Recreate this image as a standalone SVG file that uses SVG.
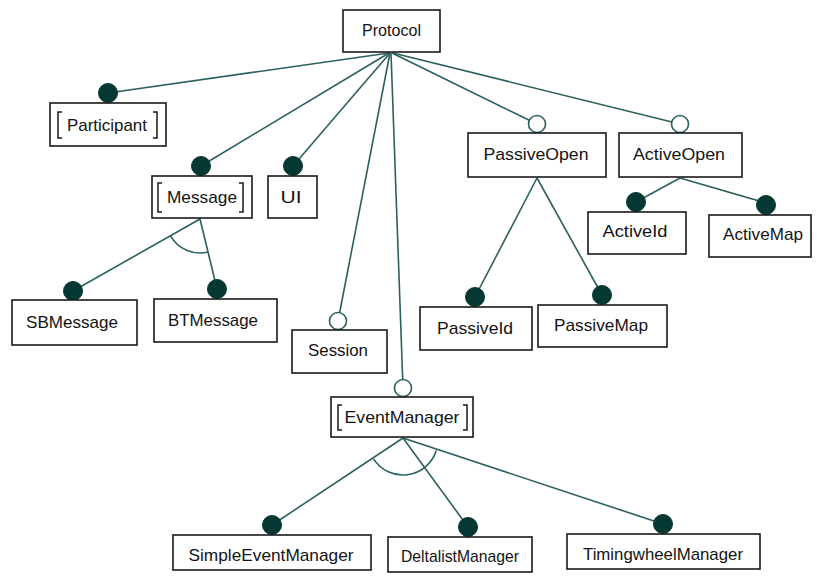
<svg xmlns="http://www.w3.org/2000/svg" width="817" height="576" viewBox="0 0 817 576">
  <style>
    .box { fill: #ffffff; stroke: #1a1a1a; stroke-width: 1.6; }
    .brk { fill: none; stroke: #1a1a1a; stroke-width: 1.5; }
    .lbl { font-family: "Liberation Sans", Arial, sans-serif; font-size: 17px; fill: #141414; text-anchor: middle; }
    .edge { fill: none; stroke: #2b6060; stroke-width: 1.6; }
    .arc { fill: none; stroke: #2b6060; stroke-width: 1.6; }
    .mand { fill: #053832; stroke: #053832; stroke-width: 1; }
    .opt { fill: #ffffff; stroke: #2b6060; stroke-width: 1.6; }
  </style>
  <rect width="817" height="576" fill="#ffffff"/>

  <!-- connectors -->
  <g id="connectors">
    <!-- Protocol children -->
    <line class="edge" x1="389" y1="53" x2="108" y2="93"/>
    <line class="edge" x1="389" y1="53" x2="201" y2="166"/>
    <line class="edge" x1="390" y1="53" x2="293" y2="166"/>
    <line class="edge" x1="390" y1="53" x2="338" y2="321"/>
    <line class="edge" x1="391" y1="53" x2="403" y2="388"/>
    <line class="edge" x1="392" y1="53" x2="537" y2="124"/>
    <line class="edge" x1="393" y1="53" x2="680" y2="124"/>
    <!-- Message alternatives -->
    <line class="edge" x1="200" y1="219" x2="73" y2="291"/>
    <line class="edge" x1="200" y1="219" x2="217" y2="289"/>
    <path class="arc" d="M170.4,235.6 A34,34 0 0 0 208.2,252"/>
    <!-- PassiveOpen children -->
    <line class="edge" x1="537" y1="178" x2="475" y2="297"/>
    <line class="edge" x1="537" y1="178" x2="602" y2="295"/>
    <!-- ActiveOpen children -->
    <line class="edge" x1="680" y1="178" x2="636" y2="202"/>
    <line class="edge" x1="680" y1="178" x2="766" y2="203"/>
    <!-- EventManager alternatives -->
    <line class="edge" x1="403" y1="438" x2="272" y2="525"/>
    <line class="edge" x1="403" y1="438" x2="468" y2="527"/>
    <line class="edge" x1="403" y1="438" x2="663" y2="524"/>
    <path class="arc" d="M373.5,458.9 A35,35 0 0 0 436.3,450.6"/>

    <!-- mandatory markers -->
    <circle class="mand" cx="108" cy="93" r="9.5"/>
    <circle class="mand" cx="201" cy="166" r="9.5"/>
    <circle class="mand" cx="293" cy="166" r="9.5"/>
    <circle class="mand" cx="73" cy="291" r="9.5"/>
    <circle class="mand" cx="217" cy="289" r="9.5"/>
    <circle class="mand" cx="475" cy="297" r="9.5"/>
    <circle class="mand" cx="602" cy="295" r="9.5"/>
    <circle class="mand" cx="636" cy="202" r="9.5"/>
    <circle class="mand" cx="766" cy="205" r="9.5"/>
    <circle class="mand" cx="272" cy="525" r="9.5"/>
    <circle class="mand" cx="468" cy="527" r="9.5"/>
    <circle class="mand" cx="663" cy="524" r="9.5"/>
    <!-- optional markers -->
    <circle class="opt" cx="338" cy="321" r="8.5"/>
    <circle class="opt" cx="403" cy="388" r="8.5"/>
    <circle class="opt" cx="537" cy="124" r="8.5"/>
    <circle class="opt" cx="680" cy="124" r="8.5"/>
  </g>

  <g id="protocol">
    <rect class="box" x="343" y="10" width="97" height="42"/>
    <text class="lbl" x="391.5" y="36" textLength="59" lengthAdjust="spacingAndGlyphs">Protocol</text>
  </g>

  <g id="participant">
    <rect class="box" x="50" y="103" width="116" height="43"/>
    <path class="brk" d="M62,112 H58 V138 H62 M153,112 H157 V138 H153"/>
    <text class="lbl" x="107" y="131" textLength="80" lengthAdjust="spacingAndGlyphs">Participant</text>
  </g>

  <g id="message">
    <rect class="box" x="152" y="176" width="100" height="42"/>
    <path class="brk" d="M162,183 H158 V212 H162 M239,183 H243 V212 H239"/>
    <text class="lbl" x="202" y="203" textLength="70" lengthAdjust="spacingAndGlyphs">Message</text>
  </g>

  <g id="ui">
    <rect class="box" x="268" y="176" width="49" height="42"/>
    <text class="lbl" x="291" y="203" textLength="21" lengthAdjust="spacingAndGlyphs">UI</text>
  </g>

  <g id="sbmessage">
    <rect class="box" x="12" y="300" width="125" height="45"/>
    <text class="lbl" x="72" y="328" textLength="92" lengthAdjust="spacingAndGlyphs">SBMessage</text>
  </g>

  <g id="btmessage">
    <rect class="box" x="154" y="299" width="123" height="43"/>
    <text class="lbl" x="213" y="326" textLength="90" lengthAdjust="spacingAndGlyphs">BTMessage</text>
  </g>

  <g id="session">
    <rect class="box" x="292" y="330" width="95" height="43"/>
    <text class="lbl" x="338" y="356" textLength="60" lengthAdjust="spacingAndGlyphs">Session</text>
  </g>

  <g id="eventmanager">
    <rect class="box" x="331" y="397" width="142" height="40"/>
    <path class="brk" d="M342,405 H338 V430 H342 M463,405 H467 V430 H463"/>
    <text class="lbl" x="402" y="423" textLength="115" lengthAdjust="spacingAndGlyphs">EventManager</text>
  </g>

  <g id="passiveopen">
    <rect class="box" x="468" y="133" width="138" height="44"/>
    <text class="lbl" x="536" y="160" textLength="105" lengthAdjust="spacingAndGlyphs">PassiveOpen</text>
  </g>

  <g id="activeopen">
    <rect class="box" x="619" y="133" width="123" height="44"/>
    <text class="lbl" x="679" y="160" textLength="92" lengthAdjust="spacingAndGlyphs">ActiveOpen</text>
  </g>

  <g id="activeid">
    <rect class="box" x="588" y="212" width="98" height="42"/>
    <text class="lbl" x="635" y="237" textLength="65" lengthAdjust="spacingAndGlyphs">ActiveId</text>
  </g>

  <g id="activemap">
    <rect class="box" x="709" y="215" width="102" height="42"/>
    <text class="lbl" x="763" y="240" textLength="80" lengthAdjust="spacingAndGlyphs">ActiveMap</text>
  </g>

  <g id="passiveid">
    <rect class="box" x="420" y="307" width="112" height="43"/>
    <text class="lbl" x="475" y="334" textLength="76" lengthAdjust="spacingAndGlyphs">PassiveId</text>
  </g>

  <g id="passivemap">
    <rect class="box" x="538" y="305" width="129" height="42"/>
    <text class="lbl" x="601" y="331" textLength="94" lengthAdjust="spacingAndGlyphs">PassiveMap</text>
  </g>

  <g id="simpleeventmanager">
    <rect class="box" x="173" y="535" width="198" height="35"/>
    <text class="lbl" x="271" y="561" textLength="165" lengthAdjust="spacingAndGlyphs">SimpleEventManager</text>
  </g>

  <g id="deltalistmanager">
    <rect class="box" x="388" y="537" width="144" height="35"/>
    <text class="lbl" x="460" y="562" textLength="118" lengthAdjust="spacingAndGlyphs">DeltalistManager</text>
  </g>

  <g id="timingwheelmanager">
    <rect class="box" x="567" y="534" width="193" height="35"/>
    <text class="lbl" x="663" y="560" textLength="160" lengthAdjust="spacingAndGlyphs">TimingwheelManager</text>
  </g>
</svg>
